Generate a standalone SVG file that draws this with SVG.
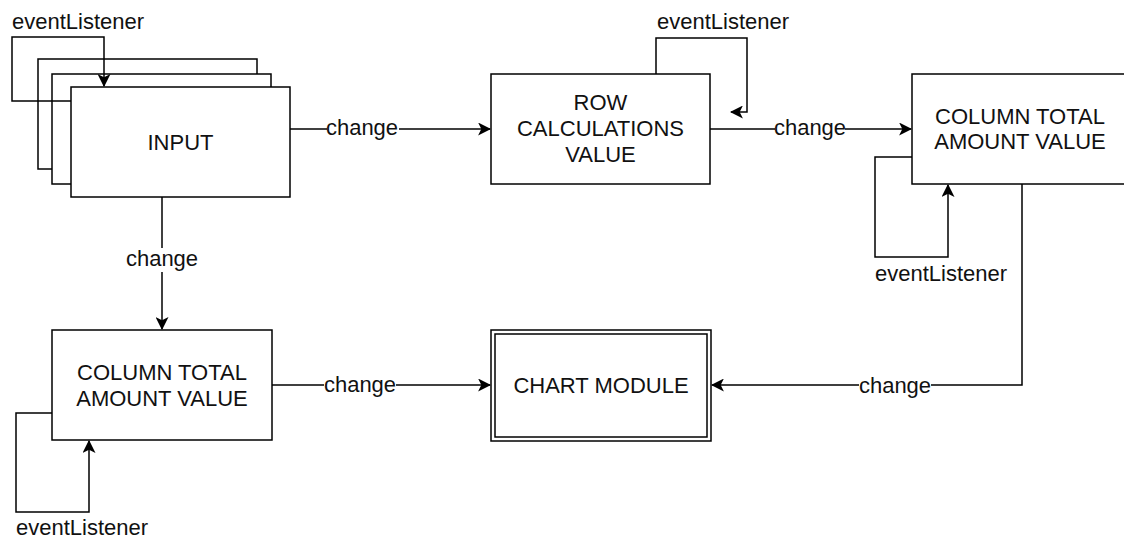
<svg xmlns="http://www.w3.org/2000/svg" width="1124" height="540" viewBox="0 0 1124 540">
<style>
.box{fill:#fff;stroke:#000;stroke-width:1.5}
.ln{fill:none;stroke:#000;stroke-width:1.5}
.t{font-family:"Liberation Sans",Arial,Helvetica,sans-serif;font-size:22px;fill:#111;text-anchor:middle}
.lbl{font-family:"Liberation Sans",Arial,Helvetica,sans-serif;font-size:22px;fill:#111;text-anchor:middle}
.bg{fill:#fff}
</style>
<defs>
<marker id="arr" viewBox="0 0 12 12" refX="11" refY="6" markerWidth="13" markerHeight="13" markerUnits="userSpaceOnUse" orient="auto">
<path d="M0,0 L12,6 L0,12 L3,6 z" fill="#000"/>
</marker>
</defs>
<rect width="1124" height="540" fill="#fff"/>
<g id="input">
<rect class="box" x="38" y="59" width="219" height="110"/>
<rect class="box" x="52" y="74" width="219" height="110"/>
<rect class="box" x="71" y="87" width="219" height="110"/>
<text class="t" x="180.5" y="150">INPUT</text>
</g>
<g id="row">
<rect class="box" x="491" y="74" width="219" height="110"/>
<text class="t" x="600.5" y="110">ROW</text>
<text class="t" x="600.5" y="136">CALCULATIONS</text>
<text class="t" x="600.5" y="162">VALUE</text>
</g>
<g id="coltop">
<rect class="box" x="912" y="74" width="219" height="110"/>
<text class="t" x="1020" y="124">COLUMN TOTAL</text>
<text class="t" x="1020" y="149">AMOUNT VALUE</text>
</g>
<g id="colbottom">
<rect class="box" x="52" y="330" width="220" height="110"/>
<text class="t" x="162" y="380">COLUMN TOTAL</text>
<text class="t" x="162" y="406">AMOUNT VALUE</text>
</g>
<g id="chart">
<rect class="box" x="491" y="330" width="220" height="111"/>
<rect class="box" x="495" y="334" width="212" height="103"/>
<text class="t" x="601" y="393">CHART MODULE</text>
</g>
<g id="connectors">
<path class="ln" d="M71,101 H12 V37 H104 V86" marker-end="url(#arr)"/>
<text class="lbl" x="78" y="29">eventListener</text>
<path class="ln" d="M656,74 V38 H747 V112 H731" marker-end="url(#arr)"/>
<text class="lbl" x="723" y="29">eventListener</text>
<path class="ln" d="M912,157 H875 V257 H948 V185" marker-end="url(#arr)"/>
<text class="lbl" x="941" y="281">eventListener</text>
<path class="ln" d="M52,413 H16 V512 H89 V441" marker-end="url(#arr)"/>
<text class="lbl" x="82" y="535">eventListener</text>
<path class="ln" d="M290,129 H490" marker-end="url(#arr)"/>
<rect class="bg" x="327" y="118" width="72" height="24"/>
<text class="lbl" x="362" y="135">change</text>
<path class="ln" d="M710,129 H911" marker-end="url(#arr)"/>
<rect class="bg" x="775" y="118" width="70" height="24"/>
<text class="lbl" x="810" y="135">change</text>
<path class="ln" d="M162,197 V329" marker-end="url(#arr)"/>
<rect class="bg" x="126" y="248" width="72" height="24"/>
<text class="lbl" x="162" y="266">change</text>
<path class="ln" d="M272,385 H490" marker-end="url(#arr)"/>
<rect class="bg" x="324" y="374" width="72" height="24"/>
<text class="lbl" x="360" y="392">change</text>
<path class="ln" d="M1022,184 V385 H712" marker-end="url(#arr)"/>
<rect class="bg" x="859" y="374" width="72" height="24"/>
<text class="lbl" x="895" y="393">change</text>
</g>
</svg>
